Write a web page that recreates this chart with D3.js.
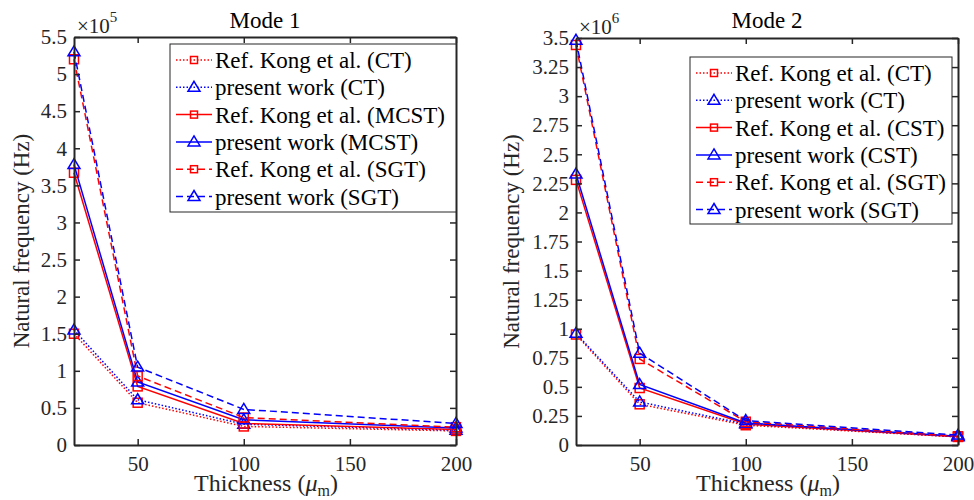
<!DOCTYPE html>
<html>
<head>
<meta charset="utf-8">
<script src="https://cdn.jsdelivr.net/npm/d3@7"></script>
<style>
  html, body { margin: 0; padding: 0; background: #fff; }
  svg text { font-family: 'Liberation Serif', 'Times New Roman', Times, 'Nimbus Roman', 'DejaVu Serif', serif; }
</style>
</head>
<body>
<svg id="chart" width="974" height="500"></svg>
<script>
// ---------- DATA ----------
const thickness = [20, 50, 100, 200];

// Mode 1 (x 10^5 Hz)
const mode1RefCT    = [1.50, 0.57, 0.25, 0.19];
const mode1PresCT   = [1.55, 0.61, 0.28, 0.20];
const mode1RefMCST  = [3.67, 0.79, 0.29, 0.21];
const mode1PresMCST = [3.78, 0.85, 0.34, 0.23];
const mode1RefSGT   = [5.20, 0.93, 0.37, 0.24];
const mode1PresSGT  = [5.30, 1.05, 0.48, 0.29];

// Mode 2 (x 10^6 Hz)
const mode2RefCT    = [0.95, 0.35, 0.17, 0.07];
const mode2PresCT   = [0.96, 0.37, 0.18, 0.07];
const mode2RefCST   = [2.28, 0.49, 0.18, 0.07];
const mode2PresCST  = [2.33, 0.52, 0.19, 0.075];
const mode2RefSGT   = [3.44, 0.74, 0.20, 0.075];
const mode2PresSGT  = [3.48, 0.79, 0.21, 0.085];

const xTicks = [50, 100, 150, 200];
const mode1YTicks = [0, 0.5, 1, 1.5, 2, 2.5, 3, 3.5, 4, 4.5, 5, 5.5];
const mode2YTicks = [0, 0.25, 0.5, 0.75, 1, 1.25, 1.5, 1.75, 2, 2.25, 2.5, 2.75, 3, 3.25, 3.5];

const mode1Labels = ["Ref. Kong et al. (CT)", "present work (CT)", "Ref. Kong et al. (MCST)",
                     "present work (MCST)", "Ref. Kong et al. (SGT)", "present work (SGT)"];
const mode2Labels = ["Ref. Kong et al. (CT)", "present work (CT)", "Ref. Kong et al. (CST)",
                     "present work (CST)", "Ref. Kong et al. (SGT)", "present work (SGT)"];

// ---------- STYLE ----------
const FONT = "'Liberation Serif', 'Times New Roman', Times, 'Nimbus Roman', 'DejaVu Serif', serif";
const RED = "#ff0000", BLUE = "#0000ff", AXIS = "#262626";
const styles = [
  {color: RED,  dash: "1.5,2", marker: "square"},
  {color: BLUE, dash: "1.5,2", marker: "triangle"},
  {color: RED,  dash: null,    marker: "square"},
  {color: BLUE, dash: null,    marker: "triangle"},
  {color: RED,  dash: "7,4",   marker: "square"},
  {color: BLUE, dash: "7,4",   marker: "triangle"}
];

const svg = d3.select("#chart");

function drawMarker(g, type, cx, cy, color, small) {
  if (type === "square") {
    const s = small ? 7 : 9;
    g.append("rect").attr("x", cx - s/2).attr("y", cy - s/2).attr("width", s).attr("height", s)
      .attr("fill", "none").attr("stroke", color).attr("stroke-width", 1.5);
  } else {
    const w = 12, h = 10;
    g.append("path")
      .attr("d", `M${cx},${cy - h*0.6}L${cx + w/2},${cy + h*0.4}L${cx - w/2},${cy + h*0.4}Z`)
      .attr("fill", "none").attr("stroke", color).attr("stroke-width", 1.5);
  }
}

function panel(opts) {
  const {x0, x1, y0, y1, ymax, yTicks, yFmt, series, labels, title, exp, legend, ylabX} = opts;
  const x = d3.scaleLinear().domain([20, 200]).range([x0, x1]);
  const y = d3.scaleLinear().domain([0, ymax]).range([y1, y0]);
  const g = svg.append("g").attr("font-family", FONT);

  // series
  const line = d3.line().x((d, i) => x(thickness[i])).y(d => y(d));
  series.forEach((vals, k) => {
    const st = styles[k];
    g.append("path").datum(vals).attr("d", line)
      .attr("fill", "none").attr("stroke", st.color).attr("stroke-width", 1.5)
      .attr("stroke-dasharray", st.dash);
    vals.forEach((v, i) => drawMarker(g, st.marker, x(thickness[i]), y(v), st.color, false));
  });

  // axes (ticks inward)
  const bottom = g.append("g").attr("transform", `translate(0,${y1})`)
    .call(d3.axisBottom(x).tickValues(xTicks).tickSize(-6).tickSizeOuter(0).tickPadding(11));
  const top = g.append("g").attr("transform", `translate(0,${y0})`)
    .call(d3.axisTop(x).tickValues(xTicks).tickSize(-6).tickSizeOuter(0).tickFormat(""));
  const left = g.append("g").attr("transform", `translate(${x0},0)`)
    .call(d3.axisLeft(y).tickValues(yTicks).tickSize(-6).tickSizeOuter(0).tickPadding(7).tickFormat(yFmt));
  const right = g.append("g").attr("transform", `translate(${x1},0)`)
    .call(d3.axisRight(y).tickValues(yTicks).tickSize(-6).tickSizeOuter(0).tickFormat(""));
  [bottom, top, left, right].forEach(a => {
    a.attr("font-family", FONT).attr("font-size", 21);
    a.selectAll("path.domain").attr("stroke", AXIS).attr("stroke-width", 2);
    a.selectAll(".tick line").attr("stroke", AXIS).attr("stroke-width", 1.5);
    a.selectAll(".tick text").attr("fill", AXIS).attr("font-family", FONT).attr("font-size", 21);
  });

  // exponent
  const ex = g.append("text").attr("x", x0 + 3).attr("y", y0 - 4)
    .attr("fill", AXIS).attr("font-size", 21);
  ex.append("tspan").text("×10");
  ex.append("tspan").attr("dy", -11).attr("font-size", 15).text(exp);

  // title
  g.append("text").attr("x", (x0 + x1) / 2).attr("y", 28).attr("text-anchor", "middle")
    .attr("fill", "#000").attr("font-size", 23).text(title);

  // x label
  const xl = g.append("text").attr("x", (x0 + x1) / 2 + 1).attr("y", 491).attr("text-anchor", "middle")
    .attr("fill", AXIS).attr("font-size", 24);
  xl.append("tspan").text("Thickness (");
  xl.append("tspan").attr("font-style", "italic").text("μ");
  xl.append("tspan").attr("dy", 5).attr("font-size", 16).text("m");
  xl.append("tspan").attr("dy", -5).text(")");

  // y label
  g.append("text").attr("transform", `translate(${ylabX},${(y0 + y1) / 2}) rotate(-90)`)
    .attr("text-anchor", "middle").attr("fill", AXIS).attr("font-size", 23)
    .text("Natural frequency (Hz)");

  // legend
  const lg = g.append("g");
  lg.append("rect").attr("x", legend.x).attr("y", legend.y).attr("width", legend.w).attr("height", legend.h)
    .attr("fill", "#fff").attr("stroke", AXIS).attr("stroke-width", 1);
  labels.forEach((lab, k) => {
    const st = styles[k];
    const cy = legend.y + 16 + k * 27.3;
    const lx0 = legend.x + 6, lx1 = legend.x + 42;
    lg.append("line").attr("x1", lx0).attr("x2", lx1).attr("y1", cy).attr("y2", cy)
      .attr("stroke", st.color).attr("stroke-width", 1.5).attr("stroke-dasharray", st.dash);
    drawMarker(lg, st.marker, (lx0 + lx1) / 2, cy, st.color, true);
    lg.append("text").attr("x", legend.x + 45).attr("y", cy).attr("dy", "0.35em")
      .attr("fill", "#000").attr("font-size", 23).text(lab);
  });
}

panel({
  x0: 74, x1: 456, y0: 37, y1: 445, ymax: 5.5, yTicks: mode1YTicks, yFmt: d3.format("~g"),
  series: [mode1RefCT, mode1PresCT, mode1RefMCST, mode1PresMCST, mode1RefSGT, mode1PresSGT],
  labels: mode1Labels, title: "Mode 1", exp: "5",
  legend: {x: 170, y: 44, w: 286, h: 168}, ylabX: 29
});

panel({
  x0: 576, x1: 958, y0: 38, y1: 445, ymax: 3.5, yTicks: mode2YTicks, yFmt: d3.format("~g"),
  series: [mode2RefCT, mode2PresCT, mode2RefCST, mode2PresCST, mode2RefSGT, mode2PresSGT],
  labels: mode2Labels, title: "Mode 2", exp: "6",
  legend: {x: 690, y: 57, w: 262, h: 167}, ylabX: 519
});
</script>
</body>
</html>
